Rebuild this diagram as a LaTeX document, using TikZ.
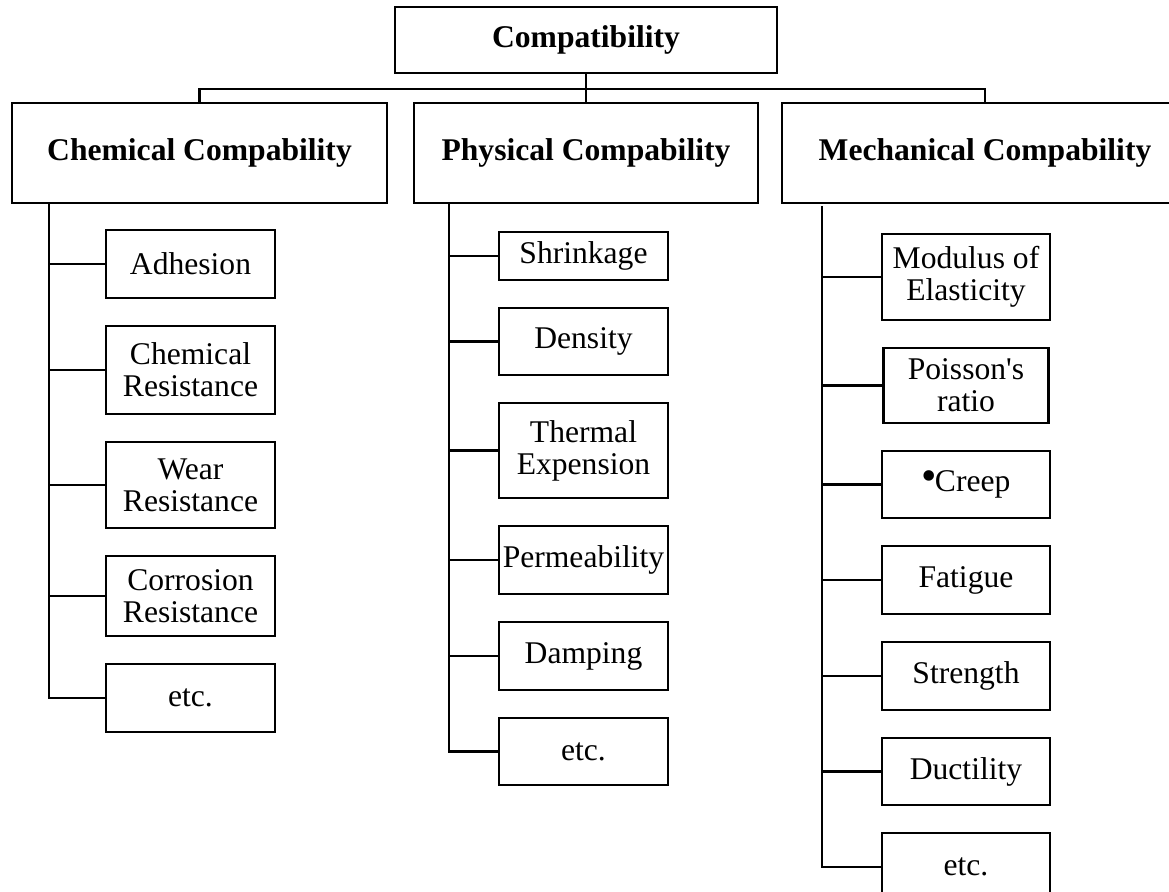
\documentclass[tikz,border=0pt]{standalone}
\usepackage{fontspec}
\setmainfont{Liberation Serif}[Ligatures=TeXOff]
\usepackage{tikz}
\usetikzlibrary{positioning}
\tikzset{
  headbox/.style={
    rectangle,
    draw,
    line width=1.25pt,
    inner sep=0pt,
    align=center,
    minimum height=50pt,
    font=\fontsize{15.8}{16}\selectfont\bfseries
  },
  itembox/.style={
    rectangle,
    draw,
    line width=1.25pt,
    inner sep=0pt,
    align=center,
    minimum width=84.5pt,
    minimum height=34pt,
    font=\fontsize{15.8}{16}\selectfont
  },
  treeline/.style={
    line width=1.4pt
  }
}

\begin{document}
\begin{tikzpicture}[x=0.5pt, y=-0.5pt, node distance=12.75pt]
  \clip (0,0) rectangle (1169,892);

  % heads
  \node[headbox, minimum width=191pt, minimum height=33pt] (root) at (586,40) {Compatibility};
  \node[headbox, minimum width=187.5pt] (chem) at (199.5,153) {Chemical Compability};
  \node[headbox, minimum width=172pt] (phys) at (586,153) {Physical Compability};
  \node[headbox, minimum width=203pt] (mech) at (985,153) {Mechanical Compability};

  \coordinate (bus) at (586,89);
  \draw[treeline] (root.south) -- (phys.north);
  \draw[treeline] (chem.north) |- (bus) -| (mech.north);

  % chemical
  \node[itembox] (adh) at (190.5,264) {Adhesion};
  \node[itembox, minimum height=44pt, below=of adh] (chemres) {Chemical\\Resistance};
  \node[itembox, minimum height=43pt, below=of chemres] (wear) {Wear\\Resistance};
  \node[itembox, minimum height=40pt, below=of wear] (corr) {Corrosion\\Resistance};
  \node[itembox, below=of corr] (chemetc) {etc.};

  \coordinate (chemtrunk) at (49,203);
  \draw[treeline] (chemtrunk) |- (chemetc.west)
    (chemtrunk |- adh.west) -- (adh.west)
    (chemtrunk |- chemres.west) -- (chemres.west)
    (chemtrunk |- wear.west) -- (wear.west)
    (chemtrunk |- corr.west) -- (corr.west);

  % physical
  \node[itembox, minimum height=24pt] (shrink) at (583.5,256) {Shrinkage};
  \node[itembox, minimum height=33.5pt, below=of shrink] (dens) {Density};
  \node[itembox, minimum height=47.5pt, below=of dens] (therm) {Thermal\\Expension};
  \node[itembox, below=of therm] (perm) {Permeability};
  \node[itembox, below=of perm] (damp) {Damping};
  \node[itembox, minimum height=33.5pt, below=of damp] (physetc) {etc.};

  \coordinate (phystrunk) at (449,204);
  \draw[treeline] (phystrunk) |- (physetc.west)
    (phystrunk |- shrink.west) -- (shrink.west)
    (phystrunk |- dens.west) -- (dens.west)
    (phystrunk |- therm.west) -- (therm.west)
    (phystrunk |- perm.west) -- (perm.west)
    (phystrunk |- damp.west) -- (damp.west);

  % mechanical
  \node[itembox, minimum width=84pt, minimum height=43pt] (modul) at (966,277) {Modulus of\\Elasticity};
  \node[itembox, minimum width=82.5pt, minimum height=37.5pt, below=of modul] (poiss) {Poisson's\\ratio};
  \node[itembox, minimum width=84pt, minimum height=33.5pt, below=of poiss] (creep)
    {\raisebox{0.8pt}{\fontsize{22}{22}\selectfont\textbullet}\kern-1pt Creep};
  \node[itembox, minimum width=84pt, below=of creep] (fatig) {Fatigue};
  \node[itembox, minimum width=84pt, below=of fatig] (stren) {Strength};
  \node[itembox, minimum width=84pt, minimum height=33.5pt, below=of stren] (duct) {Ductility};
  \node[itembox, minimum width=84pt, below=of duct] (mechetc) {etc.};

  \coordinate (mechtrunk) at (822,206);
  \draw[treeline] (mechtrunk) |- (mechetc.west)
    (mechtrunk |- modul.west) -- (modul.west)
    (mechtrunk |- poiss.west) -- (poiss.west)
    (mechtrunk |- creep.west) -- (creep.west)
    (mechtrunk |- fatig.west) -- (fatig.west)
    (mechtrunk |- stren.west) -- (stren.west)
    (mechtrunk |- duct.west) -- (duct.west);
\end{tikzpicture}
\end{document}
